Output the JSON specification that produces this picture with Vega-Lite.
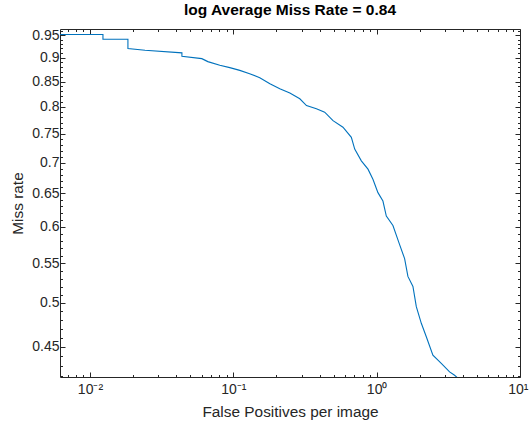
{
  "$schema": "https://vega.github.io/schema/vega-lite/v6.json",
  "width": 460,
  "height": 348,
  "autosize": "none",
  "padding": {"left": 60, "top": 29, "right": 9, "bottom": 48},
  "background": "white",
  "title": {
    "text": "log Average Miss Rate = 0.84",
    "font": "Liberation Sans",
    "fontSize": 15.5,
    "fontWeight": "bold",
    "color": "black",
    "anchor": "middle",
    "offset": 5
  },
  "config": {
    "view": {"stroke": "#262626", "strokeWidth": 1},
    "font": "Liberation Sans",
    "axis": {
      "domain": false,
      "grid": false,
      "tickColor": "#262626",
      "tickWidth": 1,
      "labelColor": "#262626",
      "labelFont": "Liberation Sans",
      "labelFontSize": 14,
      "titleColor": "#262626",
      "titleFont": "Liberation Sans",
      "titleFontSize": 15.4,
      "titleFontWeight": "normal"
    }
  },
  "data": {
    "values": [
      {"i": 0, "fppi": 0.0062, "mr": 0.9514},
      {"i": 1, "fppi": 0.01232, "mr": 0.9514},
      {"i": 2, "fppi": 0.01232, "mr": 0.9407},
      {"i": 3, "fppi": 0.0184, "mr": 0.9407},
      {"i": 4, "fppi": 0.0184, "mr": 0.9198},
      {"i": 5, "fppi": 0.0242, "mr": 0.9161},
      {"i": 6, "fppi": 0.0438, "mr": 0.9104},
      {"i": 7, "fppi": 0.0438, "mr": 0.903},
      {"i": 8, "fppi": 0.0603, "mr": 0.8979},
      {"i": 9, "fppi": 0.0664, "mr": 0.8915},
      {"i": 10, "fppi": 0.0805, "mr": 0.8836},
      {"i": 11, "fppi": 0.0945, "mr": 0.8787},
      {"i": 12, "fppi": 0.111, "mr": 0.873},
      {"i": 13, "fppi": 0.13, "mr": 0.8661},
      {"i": 14, "fppi": 0.153, "mr": 0.8578},
      {"i": 15, "fppi": 0.18, "mr": 0.8455},
      {"i": 16, "fppi": 0.211, "mr": 0.8354},
      {"i": 17, "fppi": 0.248, "mr": 0.8268},
      {"i": 18, "fppi": 0.291, "mr": 0.8155},
      {"i": 19, "fppi": 0.324, "mr": 0.8024},
      {"i": 20, "fppi": 0.38, "mr": 0.7961},
      {"i": 21, "fppi": 0.434, "mr": 0.7897},
      {"i": 22, "fppi": 0.496, "mr": 0.7739},
      {"i": 23, "fppi": 0.582, "mr": 0.7617},
      {"i": 24, "fppi": 0.666, "mr": 0.7436},
      {"i": 25, "fppi": 0.703, "mr": 0.7229},
      {"i": 26, "fppi": 0.782, "mr": 0.7028},
      {"i": 27, "fppi": 0.87, "mr": 0.6889},
      {"i": 28, "fppi": 0.942, "mr": 0.6725},
      {"i": 29, "fppi": 1.021, "mr": 0.6512},
      {"i": 30, "fppi": 1.106, "mr": 0.6382},
      {"i": 31, "fppi": 1.168, "mr": 0.6156},
      {"i": 32, "fppi": 1.299, "mr": 0.6019},
      {"i": 33, "fppi": 1.446, "mr": 0.575},
      {"i": 34, "fppi": 1.567, "mr": 0.5559},
      {"i": 35, "fppi": 1.652, "mr": 0.5327},
      {"i": 36, "fppi": 1.791, "mr": 0.52},
      {"i": 37, "fppi": 1.891, "mr": 0.4955},
      {"i": 38, "fppi": 2.049, "mr": 0.4761},
      {"i": 39, "fppi": 2.22, "mr": 0.461},
      {"i": 40, "fppi": 2.468, "mr": 0.4411},
      {"i": 41, "fppi": 2.824, "mr": 0.4324},
      {"i": 42, "fppi": 3.227, "mr": 0.4237},
      {"i": 43, "fppi": 3.496, "mr": 0.4203},
      {"i": 44, "fppi": 3.65, "mr": 0.418}
    ]
  },
  "resolve": {"axis": {"x": "independent", "y": "independent"}},
  "layer": [
    {
      "mark": {"type": "line", "color": "#0072BD", "strokeWidth": 1.1, "clip": true},
      "encoding": {
        "x": {
          "field": "fppi",
          "type": "quantitative",
          "scale": {"type": "log", "domain": [0.00618, 10], "nice": false, "zero": false},
          "axis": {
            "orient": "bottom",
            "title": "False Positives per image",
            "titlePadding": 6,
            "values": [0.007, 0.008, 0.009, 0.01, 0.02, 0.03, 0.04, 0.05, 0.06, 0.07, 0.08, 0.09, 0.1, 0.2, 0.3, 0.4, 0.5, 0.6, 0.7, 0.8, 0.9, 1, 2, 3, 4, 5, 6, 7, 8, 9, 10],
            "labelExpr": "datum.value > 0.0099 && datum.value < 0.0101 ? '10⁻²' : datum.value > 0.099 && datum.value < 0.101 ? '10⁻¹' : datum.value > 0.99 && datum.value < 1.01 ? '10⁰' : datum.value > 9.9 && datum.value < 10.1 ? '10¹' : ''",
            "labelPadding": 10,
            "labelOverlap": false,
            "labelFlush": 2,
            "labelFlushOffset": 8,
            "tickSize": {"condition": {"test": "abs(log(datum.value)/LN10 - round(log(datum.value)/LN10)) < 0.001", "value": -5}, "value": -2.5}
          }
        },
        "y": {
          "field": "mr",
          "type": "quantitative",
          "scale": {"type": "log", "domain": [0.4186, 0.964], "nice": false, "zero": false},
          "axis": {
            "orient": "left",
            "title": "Miss rate",
            "titlePadding": 6,
            "values": [0.42, 0.43, 0.44, 0.45, 0.46, 0.47, 0.48, 0.49, 0.5, 0.51, 0.52, 0.53, 0.54, 0.55, 0.56, 0.57, 0.58, 0.59, 0.6, 0.61, 0.62, 0.63, 0.64, 0.65, 0.66, 0.67, 0.68, 0.69, 0.7, 0.71, 0.72, 0.73, 0.74, 0.75, 0.76, 0.77, 0.78, 0.79, 0.8, 0.81, 0.82, 0.83, 0.84, 0.85, 0.86, 0.87, 0.88, 0.89, 0.9, 0.91, 0.92, 0.93, 0.94, 0.95, 0.96],
            "format": ".2~f",
            "labelExpr": "abs(datum.value*20 - round(datum.value*20)) < 0.001 ? datum.label : ''",
            "labelPadding": 6,
            "labelOverlap": false,
            "labelFlush": false,
            "tickSize": {"condition": {"test": "abs(datum.value*20 - round(datum.value*20)) < 0.001", "value": -5}, "value": -2.5}
          }
        },
        "order": {"field": "i", "type": "quantitative"}
      }
    },
    {
      "mark": {"type": "line", "opacity": 0, "clip": true},
      "encoding": {
        "x": {
          "field": "fppi",
          "type": "quantitative",
          "scale": {"type": "log", "domain": [0.00618, 10], "nice": false, "zero": false},
          "axis": {
            "orient": "top",
            "title": null,
            "labels": false,
            "values": [0.007, 0.008, 0.009, 0.01, 0.02, 0.03, 0.04, 0.05, 0.06, 0.07, 0.08, 0.09, 0.1, 0.2, 0.3, 0.4, 0.5, 0.6, 0.7, 0.8, 0.9, 1, 2, 3, 4, 5, 6, 7, 8, 9, 10],
            "tickSize": {"condition": {"test": "abs(log(datum.value)/LN10 - round(log(datum.value)/LN10)) < 0.001", "value": -5}, "value": -2.5}
          }
        },
        "y": {
          "field": "mr",
          "type": "quantitative",
          "scale": {"type": "log", "domain": [0.4186, 0.964], "nice": false, "zero": false},
          "axis": {
            "orient": "right",
            "title": null,
            "labels": false,
            "values": [0.42, 0.43, 0.44, 0.45, 0.46, 0.47, 0.48, 0.49, 0.5, 0.51, 0.52, 0.53, 0.54, 0.55, 0.56, 0.57, 0.58, 0.59, 0.6, 0.61, 0.62, 0.63, 0.64, 0.65, 0.66, 0.67, 0.68, 0.69, 0.7, 0.71, 0.72, 0.73, 0.74, 0.75, 0.76, 0.77, 0.78, 0.79, 0.8, 0.81, 0.82, 0.83, 0.84, 0.85, 0.86, 0.87, 0.88, 0.89, 0.9, 0.91, 0.92, 0.93, 0.94, 0.95, 0.96],
            "tickSize": {"condition": {"test": "abs(datum.value*20 - round(datum.value*20)) < 0.001", "value": -5}, "value": -2.5}
          }
        },
        "order": {"field": "i", "type": "quantitative"}
      }
    }
  ]
}
